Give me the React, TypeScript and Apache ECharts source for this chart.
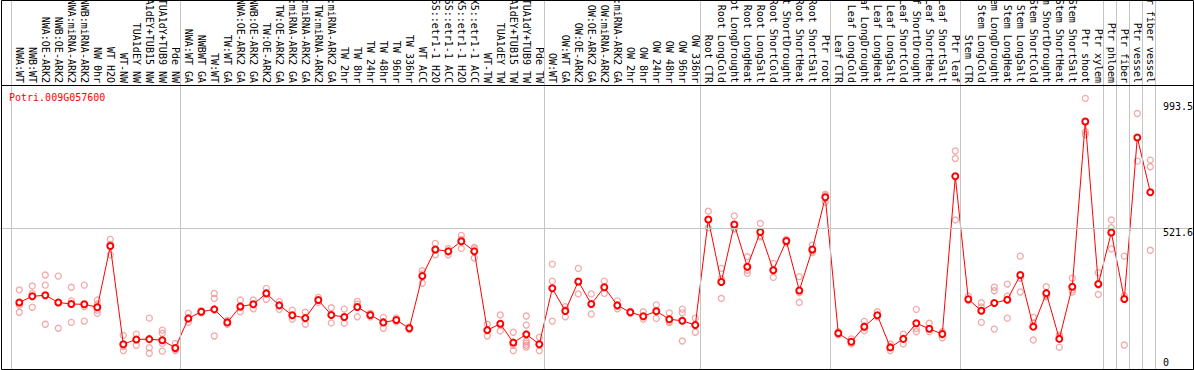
import React, { useEffect, useRef } from "react";
import * as echarts from "echarts";

const geneId = "Potri.009G057600";

const categories: string[] = [
  "NWA:WT", "NWB:WT", "NWA:OE-ARK2", "NWB:OE-ARK2", "NWA:miRNA-ARK2", "NWB:miRNA-ARK2",
  "NW 0hr", "WT H2O", "WT-NW", "TUA1dEY NW", "TUA1dEY+TUB15 NW", "TUA1dY+TUB9 NW", "Pde NW",
  "NWA:WT GA", "NWBWT GA", "TW:WT", "TW:WT GA", "NWA:OE-ARK2 GA", "NWB:OE-ARK2 GA",
  "TW:OE-ARK2", "TW:OE-ARK2 GA", "NWA:miRNA-ARK2 GA", "NWB:miRNA-ARK2 GA", "TW:miRNA-ARK2",
  "TW:miRNA-ARK2 GA", "TW 2hr", "TW 8hr", "TW 24hr", "TW 48hr", "TW 96hr", "TW 336hr",
  "WT ACC", "35S::etr1-1 H2O", "35S::etr1-1 ACC", "LMX5::etr1-1 H2O", "LMX5::etr1-1 ACC",
  "WT-TW", "TUA1dEY TW", "TUA1dEY+TUB15 TW", "TUA1dY+TUB9 TW", "Pde TW",
  "OW:WT", "OW:WT GA", "OW:OE-ARK2", "OW:OE-ARK2 GA", "OW:miRNA-ARK2", "OW:miRNA-ARK2 GA",
  "OW 2hr", "OW 8hr", "OW 24hr", "OW 48hr", "OW 96hr", "OW 336hr",
  "Root CTR", "Root LongCold", "Root LongDrought", "Root LongHeat", "Root LongSalt",
  "Root ShortCold", "Root ShortDrought", "Root ShortHeat", "Root ShortSalt", "Ptr root",
  "Leaf CTR", "Leaf LongCold", "Leaf LongDrought", "Leaf LongHeat", "Leaf LongSalt",
  "Leaf ShortCold", "Leaf ShortDrought", "Leaf ShortHeat", "Leaf ShortSalt", "Ptr leaf",
  "Stem CTR", "Stem LongCold", "Stem LongDrought", "Stem LongHeat", "Stem LongSalt",
  "Stem ShortCold", "Stem ShortDrought", "Stem ShortHeat", "Stem ShortSalt", "Ptr shoot", "Ptr xylem",
  "Ptr phloem", "Ptr fiber", "Ptr vessel", "Ptr fiber vessel",
];

const means: number[] = [
  243, 266, 270, 243, 237, 236, 225, 455, 86, 104, 105, 101, 72,
  183, 208, 217, 168, 228, 236, 277, 232, 195, 184, 252, 196, 188, 226, 196, 168, 177, 146,
  342, 442, 435, 473, 435, 139, 163, 92, 123, 86,
  296, 211, 322, 237, 300, 232, 206, 191, 210, 180, 174, 158,
  555, 320, 536, 377, 508, 364, 474, 288, 442, 638,
  127, 95, 152, 195, 74, 106, 165, 144, 124, 717,
  255, 212, 241, 253, 346, 152, 278, 106, 302, 923, 312,
  506, 256, 863, 657,
];

const replicates: number[][] = [
  [290, 233, 206], [305, 276, 225], [346, 308, 161], [342, 243, 146], [300, 249, 168],
  [308, 227, 173], [252, 237, 214, 202], [480, 462, 422], [119, 77, 62], [124, 104, 82],
  [184, 73, 52], [139, 127, 89, 60], [89, 66, 62],
  [203, 168, 180], [212, 204], [277, 258, 117], [175, 161], [252, 208, 224], [252, 219],
  [296, 255, 280], [246, 217], [214, 180], [206, 161], [262, 243], [223, 166], [218, 165],
  [247, 237, 189], [203, 189], [187, 170, 146], [185, 170], [151, 141],
  [362, 350, 315], [465, 440, 422], [446, 435, 422], [495, 480, 446], [450, 445, 410],
  [161, 139, 117], [196, 158, 136], [131, 82, 62], [192, 158, 98, 90, 82, 75], [112, 84, 62],
  [387, 323, 173], [227, 216, 189], [371, 320, 275], [275, 237, 199], [323, 300, 277],
  [249, 228, 219], [210, 202], [208, 190, 180], [234, 213, 183], [204, 170, 167],
  [218, 204, 98], [184, 158, 131],
  [586, 555, 523], [371, 332, 258], [568, 520, 520], [415, 364, 352], [540, 494, 490],
  [390, 365, 337], [480, 466], [340, 280, 243], [459, 437, 430], [650, 645, 620],
  [133, 121], [106, 87], [172, 148, 137], [208, 189], [87, 74, 62], [124, 106, 87],
  [217, 145, 133], [165, 133], [133, 128, 110], [812, 784, 553],
  [267, 250], [242, 226, 168], [300, 287, 143], [312, 267, 184], [417, 334, 282],
  [187, 166, 102], [302, 270, 264], [121, 115, 74], [334, 290, 282], [1010, 884, 874],
  [355, 308, 273],
  [553, 524, 444], [417, 268, 83], [953, 774], [778, 753, 439],
];

// index of the first category of each block (last entry = end)
const groupStarts: number[] = [0, 13, 41, 53, 63, 73, 84, 85, 86, 87, 88];
const yTickValues: number[] = [993.5, 521.6, 0];
const gridValue = 521.6;

const W = 1194;
const H = 370;
const FONT = "DejaVu Sans Mono";

export default function App() {
  const ref = useRef<HTMLDivElement>(null);

  useEffect(() => {
    const el = ref.current;
    if (!el) return;
    const chart = echarts.init(el, undefined, { renderer: "svg" });

    const repData: number[][] = [];
    replicates.forEach((vals, i) => vals.forEach((v) => repData.push([i, v])));
    const meanData = means.map((v, i) => [i, v]);

    const step = 13;
    const x0 = 19.3;

    chart.setOption({
      animation: false,
      backgroundColor: "#ffffff",
      grid: [
        { left: 0, right: 0, top: 0, bottom: 1, outerBoundsMode: "none", containLabel: false },
        {
          left: x0 - step / 2,
          right: W - (x0 - step / 2) - step * categories.length,
          top: 85,
          bottom: 1,
          outerBoundsMode: "none",
          containLabel: false,
        },
      ],
      xAxis: [
        { type: "value", gridIndex: 0, min: -x0 / step, max: (W - x0) / step, show: false },
        {
          type: "category",
          gridIndex: 1,
          position: "top",
          data: categories,
          axisLine: { show: false, onZero: false },
          axisTick: { show: false },
          splitLine: { show: false },
          axisLabel: {
            interval: 0,
            rotate: 90,
            margin: 2,
            hideOverlap: false,
            fontFamily: FONT,
            fontSize: 10,
            color: "#000",
          },
        },
      ],
      yAxis: [
        { type: "value", gridIndex: 0, min: -7.14, max: 1379.6, show: false },
        { type: "value", gridIndex: 1, min: 0, max: 1, show: false },
      ],
      series: [
        {
          type: "scatter",
          xAxisIndex: 0,
          yAxisIndex: 0,
          data: [],
          silent: true,
          z: 1,
          markLine: {
            silent: true,
            symbol: "none",
            label: { show: false },
            lineStyle: { color: "#c4c4c4", width: 1, type: "solid" },
            data: [
              ...groupStarts.map((g) => ({ xAxis: g - 0.6 })),
              { yAxis: gridValue },
            ],
          },
        },
        {
          type: "scatter",
          xAxisIndex: 0,
          yAxisIndex: 0,
          data: repData,
          symbol: "circle",
          symbolSize: 6,
          itemStyle: { color: "rgba(0,0,0,0)", borderColor: "#f09494", borderWidth: 1.3 },
          z: 2,
        },
        {
          type: "line",
          xAxisIndex: 0,
          yAxisIndex: 0,
          data: meanData,
          symbol: "emptyCircle",
          symbolSize: 6,
          lineStyle: { color: "#ff0000", width: 1 },
          itemStyle: { color: "#ff0000", borderWidth: 1.4 },
          z: 3,
        },
      ],
    });

    const tickTexts = yTickValues.map((v, k) => {
      const py = chart.convertToPixel({ yAxisIndex: 0 }, v) as number;
      return {
        type: "text",
        id: "ytick" + k,
        x: 1163,
        y: Math.min(py + 4, 362),
        z: 10,
        style: {
          text: String(v),
          fill: "#000",
          fontFamily: FONT,
          fontSize: 10,
          align: "left",
          verticalAlign: "middle",
        },
      };
    });

    chart.setOption({
      graphic: [
        {
          type: "rect",
          id: "frame",
          z: 20,
          shape: { x: 1.5, y: 0.5, width: 1192, height: 369 },
          style: { fill: "none", stroke: "#000", lineWidth: 1 },
          silent: true,
        },
        {
          type: "line",
          id: "sep",
          z: 20,
          shape: { x1: 1.5, y1: 85.5, x2: 1193.5, y2: 85.5 },
          style: { stroke: "#000", lineWidth: 1 },
          silent: true,
        },
        {
          type: "text",
          id: "title",
          x: 9,
          y: 97,
          z: 10,
          style: {
            text: geneId,
            fill: "#ff0000",
            fontFamily: FONT,
            fontSize: 10,
            align: "left",
            verticalAlign: "middle",
          },
        },
        ...tickTexts,
      ],
    });

    return () => {
      chart.dispose();
    };
  }, []);

  return (
    <div
      ref={ref}
      style={{ position: "absolute", left: 0, top: 0, width: W, height: H, background: "#fff" }}
    />
  );
}
